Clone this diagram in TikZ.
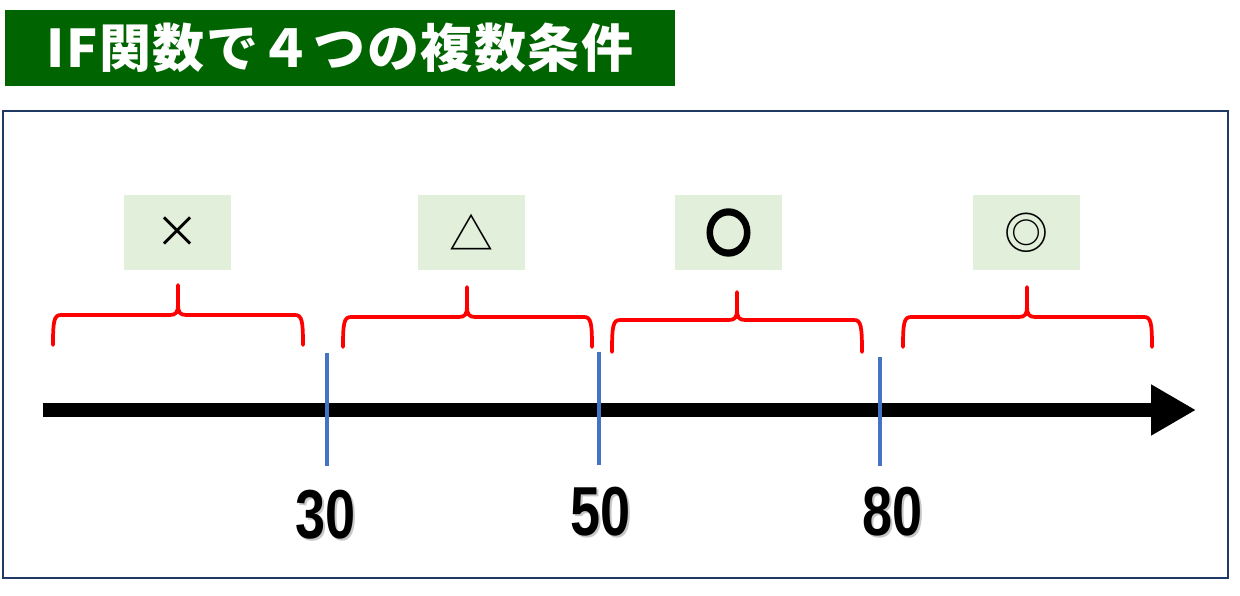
\documentclass[tikz,border=0pt]{standalone}
\usepackage{fontspec}
\usetikzlibrary{arrows.meta}
\newfontfamily\jpfont{Noto Sans CJK JP}
\newfontfamily\numfont[FakeStretch=0.78]{Liberation Sans}
\definecolor{titlegreen}{HTML}{006400}
\definecolor{boxgreen}{HTML}{E2EFDA}
\definecolor{framenavy}{HTML}{1F3864}
\definecolor{tickblue}{HTML}{4472C4}
\tikzset{
  titlebox/.style={fill=titlegreen,text=white,inner sep=0pt,minimum width=502.5pt,minimum height=57pt,font=\jpfont\bfseries\fontsize{39}{42}\selectfont},
  symbox/.style={fill=boxgreen,inner sep=0pt,minimum width=80pt,minimum height=56pt,font=\jpfont\fontsize{33}{36}\selectfont},
  bracestyle/.style={draw=red,line width=2.8pt,line cap=round},
  tickline/.style={draw=tickblue,line width=3pt},
  numlabel/.style={font=\numfont\bfseries\fontsize{52}{56}\selectfont,inner sep=0pt},
  numshadow/.style={numlabel,text=black!22},
}
\newcommand\redbrace[6]{%
  \draw[bracestyle] (#1,#5) .. controls (#1,#4+6) and (#1+1,#4) .. (#1+8,#4)
    -- (#2-8,#4) .. controls (#2-2,#4) and (#2,#4-3) .. (#2,#4-10) -- (#2,#6)
    (#2,#4-10) .. controls (#2,#4-3) and (#2+2,#4) .. (#2+8,#4)
    -- (#3-8,#4) .. controls (#3-1,#4) and (#3,#4+6) .. (#3,#5);}
\begin{document}
\begin{tikzpicture}[x=0.75pt,y=-0.75pt]
\useasboundingbox (0,0) rectangle (1240,596);
% title
\node[titlebox] (title) at (340,48) {\addfontfeatures{LetterSpace=3}IF関数で４つの複数条件};
% frame
\draw[framenavy,line width=1.2pt] (3,111) rectangle (1228,578);
% symbol boxes
\node[symbox] (s1) at (177.5,232.5) {×};
\node[symbox] (s2) at (471.5,232.5) {△};
\node[symbox,font=\jpfont\bfseries\fontsize{33}{36}\selectfont] (s3) at (728.5,232.5) {\addfontfeatures{FakeBold=10}\scalebox{1.0}[1.1]{○}};
\node[symbox] (s4) at (1026.5,232.5) {◎};
% braces
\redbrace{53}{178}{303}{315}{345}{285}
\redbrace{343}{467}{592}{317}{347}{287}
\redbrace{612}{737}{862}{320}{352}{292}
\redbrace{903}{1027}{1152}{317}{347}{287}
% axis
\coordinate (axL) at (43,410);
\coordinate (axR) at (1196,410);
\draw[line width=10.5pt,-{Triangle[length=33.75pt,width=36pt]}] (axL) -- (axR);
% ticks
\coordinate (t1a) at (327,353); \coordinate (t1b) at (327,466);
\coordinate (t2a) at (599,352); \coordinate (t2b) at (599,465);
\coordinate (t3a) at (880,357); \coordinate (t3b) at (880,466);
\draw[tickline] (t1a) -- (t1b);
\draw[tickline] (t2a) -- (t2b);
\draw[tickline] (t3a) -- (t3b);
% numbers
\node[numshadow] at (328,517) {30};
\node[numlabel] (n30) at (326,515) {30};
\node[numshadow] at (603,514) {50};
\node[numlabel] (n50) at (601,512) {50};
\node[numshadow] at (895,514) {80};
\node[numlabel] (n80) at (893,512) {80};
\end{tikzpicture}
\end{document}
